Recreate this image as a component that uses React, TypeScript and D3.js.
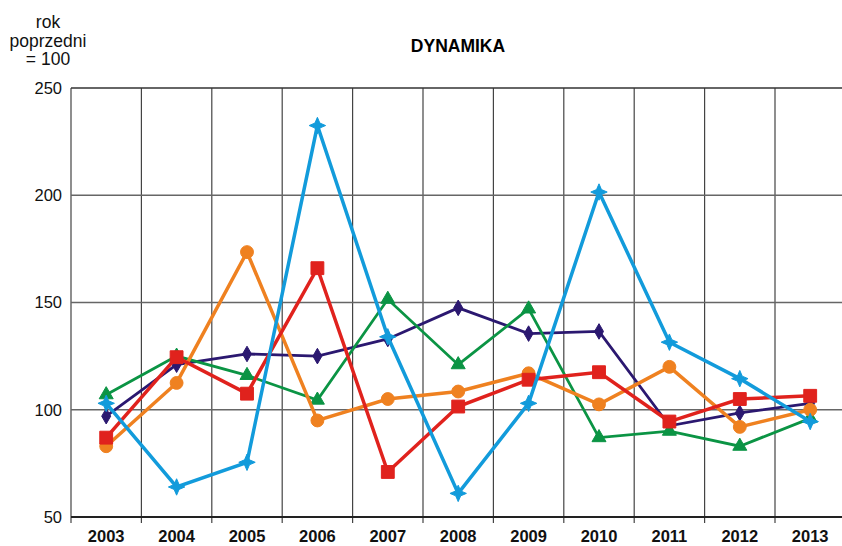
import React, { useRef, useEffect } from 'react';
import * as d3 from 'd3';

const years = ['2003', '2004', '2005', '2006', '2007', '2008', '2009', '2010', '2011', '2012', '2013'];
const yTicks = [50, 100, 150, 200, 250];

const navyValues = [97, 121, 126, 125, 133, 147.5, 135.5, 136.5, 92.5, 98.5, 103];
const greenValues = [107, 125, 116, 104.5, 151.5, 121, 147, 87, 90, 83, 96];
const orangeValues = [83, 112.5, 173.5, 95, 105, 108.5, 117, 102.5, 120, 92, 100];
const redValues = [87, 124.5, 107.5, 166, 71, 101.5, 114, 117.5, 94.5, 105, 106.5];
const blueValues = [103, 64, 75.5, 232.5, 134, 61, 103, 201.5, 131.5, 114.5, 94.5];

const star4 = {
  draw(context: any, size: number) {
    const r = Math.sqrt(size) * 0.75;
    const k = r * 0.3;
    context.moveTo(0, -r);
    context.lineTo(k, -k);
    context.lineTo(r, 0);
    context.lineTo(k, k);
    context.lineTo(0, r);
    context.lineTo(-k, k);
    context.lineTo(-r, 0);
    context.lineTo(-k, -k);
    context.closePath();
  },
};

const series = [
  { name: 'navy', values: navyValues, color: '#2b1870', width: 2.8, symbol: d3.symbolDiamond, size: 70 },
  { name: 'green', values: greenValues, color: '#0b9444', width: 2.8, symbol: d3.symbolTriangle, size: 85 },
  { name: 'orange', values: orangeValues, color: '#ef8120', width: 3.5, symbol: d3.symbolCircle, size: 130 },
  { name: 'red', values: redValues, color: '#e0221d', width: 3.5, symbol: d3.symbolSquare, size: 165 },
  { name: 'blue', values: blueValues, color: '#129bdb', width: 3.5, symbol: star4, size: 120 },
];

export default function App() {
  const svgRef = useRef<SVGSVGElement>(null);

  useEffect(() => {
    const svg = d3.select(svgRef.current);
    svg.selectAll('*').remove();

    const left = 71;
    const step = 70.4;
    const x = d3.scaleBand().domain(years).range([left, left + step * years.length]).padding(0);
    const y = d3.scaleLinear().domain([50, 250]).range([517, 88]);
    const font = 'Liberation Sans, Arial, sans-serif';

    // grid
    const grid = svg.append('g');
    grid.selectAll('line.v')
      .data(years)
      .join('line')
      .attr('x1', d => x(d)!)
      .attr('x2', d => x(d)!)
      .attr('y1', y(250))
      .attr('y2', y(50) + 6)
      .attr('stroke', '#444')
      .attr('stroke-width', 1.2);
    grid.selectAll('line.h')
      .data(yTicks.slice(1))
      .join('line')
      .attr('x1', left)
      .attr('x2', 842)
      .attr('y1', d => y(d))
      .attr('y2', d => y(d))
      .attr('stroke', d => (d === 250 ? '#333' : '#666'))
      .attr('stroke-width', 1.5);
    grid.append('line')
      .attr('x1', left).attr('x2', 842)
      .attr('y1', y(50)).attr('y2', y(50))
      .attr('stroke', '#222').attr('stroke-width', 2);

    // y labels
    svg.append('g')
      .selectAll('text')
      .data(yTicks)
      .join('text')
      .attr('x', 62)
      .attr('y', d => y(d))
      .attr('dy', '0.35em')
      .attr('text-anchor', 'end')
      .attr('font-family', font)
      .attr('font-size', 16.5)
      .attr('fill', '#111')
      .text(d => d);

    // x labels
    svg.append('g')
      .selectAll('text')
      .data(years)
      .join('text')
      .attr('x', d => x(d)! + x.bandwidth() / 2)
      .attr('y', 542)
      .attr('text-anchor', 'middle')
      .attr('font-family', font)
      .attr('font-size', 16.5)
      .attr('font-weight', 'bold')
      .attr('fill', '#111')
      .text(d => d);

    // title + unit
    svg.append('text')
      .attr('x', 458).attr('y', 52)
      .attr('text-anchor', 'middle')
      .attr('font-family', font).attr('font-size', 17.5).attr('font-weight', 'bold')
      .text('DYNAMIKA');
    const unit = svg.append('text')
      .attr('text-anchor', 'middle')
      .attr('font-family', font).attr('font-size', 17.5).attr('fill', '#111');
    ['rok', 'poprzedni', '= 100'].forEach((t, i) => {
      unit.append('tspan').attr('x', 48).attr('y', 28 + i * 18.5).text(t);
    });

    const cx = (i: number) => x(years[i])! + x.bandwidth() / 2;
    const myLine = d3.line<number>().x((v, i) => cx(i)).y(v => y(v));

    series.forEach(s => {
      const g = svg.append('g');
      g.append('path')
        .attr('d', myLine(s.values))
        .attr('fill', 'none')
        .attr('stroke', s.color)
        .attr('stroke-width', s.width)
        .attr('stroke-linejoin', 'miter');
      const sym = d3.symbol().type(s.symbol as any).size(s.size);
      g.selectAll('path.m')
        .data(s.values)
        .join('path')
        .attr('transform', (v, i) => `translate(${cx(i)},${y(v)})`)
        .attr('d', sym())
        .attr('fill', s.color)
        .attr('stroke', s.color)
        .attr('stroke-width', 1);
    });
  }, []);

  return (
    <svg
      ref={svgRef}
      width="842"
      height="546"
      viewBox="0 0 842 546"
      style={{ position: 'absolute', left: 0, top: 0, background: '#fff' }}
    />
  );
}
